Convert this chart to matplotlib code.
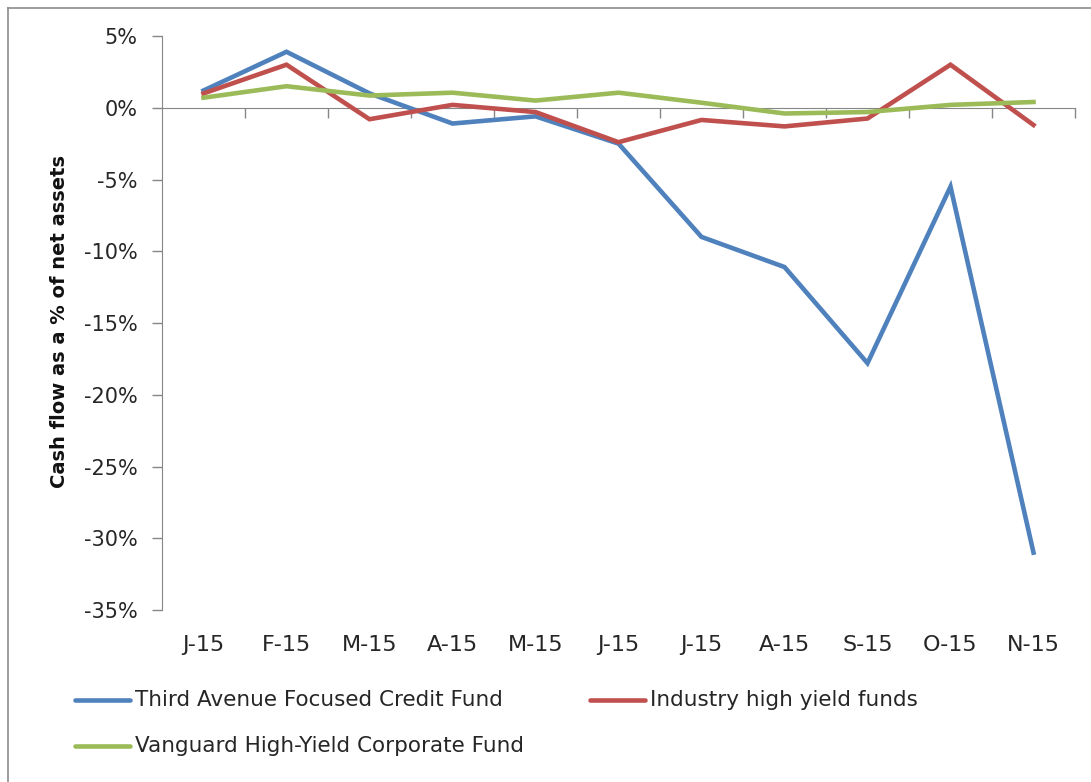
import matplotlib
matplotlib.use("Agg")
import matplotlib.pyplot as plt
from matplotlib.lines import Line2D
import matplotlib.transforms as mtransforms

months = ["J-15", "F-15", "M-15", "A-15", "M-15", "J-15", "J-15", "A-15", "S-15", "O-15", "N-15"]
third_avenue = [1.2, 3.9, 1.0, -1.1, -0.6, -2.5, -9.0, -11.1, -17.8, -5.5, -31.0]
industry_hy = [1.0, 3.0, -0.8, 0.2, -0.3, -2.4, -0.85, -1.3, -0.75, 3.0, -1.2]
vanguard_hy = [0.7, 1.5, 0.85, 1.05, 0.5, 1.05, 0.35, -0.4, -0.3, 0.2, 0.4]
series_names = ["Third Avenue Focused Credit Fund", "Industry high yield funds",
                "Vanguard High-Yield Corporate Fund"]
y_ticks = [5, 0, -5, -10, -15, -20, -25, -30, -35]

colors = ["#4F81BD", "#C0504D", "#9BBB59"]
plt.rcParams['font.family'] = ["DejaVu Sans"]
gray = "#868686"
txt = "#262626"

fig = plt.figure(figsize=(10.91, 7.82), dpi=100)
ax = fig.add_axes([162/1091, 1 - 610/782, (1075-162)/1091, (610-36)/782])

x = list(range(len(months)))
for vals, c, name in zip([third_avenue, industry_hy, vanguard_hy], colors, series_names):
    ax.plot(x, vals, color=c, lw=3.3, solid_joinstyle='miter', label=name, zorder=3)

ax.set_xlim(-0.5, len(months) - 0.5)
ax.set_ylim(-35, 5)
ax.set_yticks(y_ticks)
ax.set_yticklabels([f"{v}%" for v in y_ticks], fontsize=15, color=txt)
ax.tick_params(axis='y', direction='out', length=7, color=gray, width=1, pad=10.5)

for s in ['top', 'right']:
    ax.spines[s].set_visible(False)
ax.spines['left'].set_color(gray)
ax.spines['bottom'].set_color(gray)
ax.spines['bottom'].set_position(('data', 0))
ax.spines['bottom'].set_zorder(1)

ax.set_xticks([i + 0.5 for i in range(len(months))])
ax.set_xticklabels([])
ax.tick_params(axis='x', direction='out', length=7, color=gray, width=1)

trans = mtransforms.blended_transform_factory(ax.transData, ax.transAxes)
for i, m in enumerate(months):
    ax.text(i, -0.061, m, transform=trans, ha='center', va='center', fontsize=16, color=txt)

fig.text(60/1091, 1 - 322/782, "Cash flow as a % of net assets", rotation=90,
         ha='center', va='center', fontsize=14, fontweight='bold', color="#111111")

# legend
leg_items = [(75, 700, 0), (590, 700, 1), (75, 746, 2)]
for lx, ly, k in leg_items:
    yy = 1 - ly/782
    fig.add_artist(Line2D([lx/1091, (lx+55)/1091], [yy, yy], color=colors[k], lw=3.3,
                          solid_capstyle='round', transform=fig.transFigure))
    fig.text((lx+60)/1091, yy, series_names[k], ha='left', va='center', fontsize=15.5, color=txt)

# outer chart border
fig.add_artist(Line2D([8/1091, 8/1091], [0, 1 - 8/782], color="#8c8c8c", lw=1.2, transform=fig.transFigure))
fig.add_artist(Line2D([8/1091, 1], [1 - 8/782, 1 - 8/782], color="#8c8c8c", lw=1.2, transform=fig.transFigure))

fig.savefig("out.png", dpi=100)
